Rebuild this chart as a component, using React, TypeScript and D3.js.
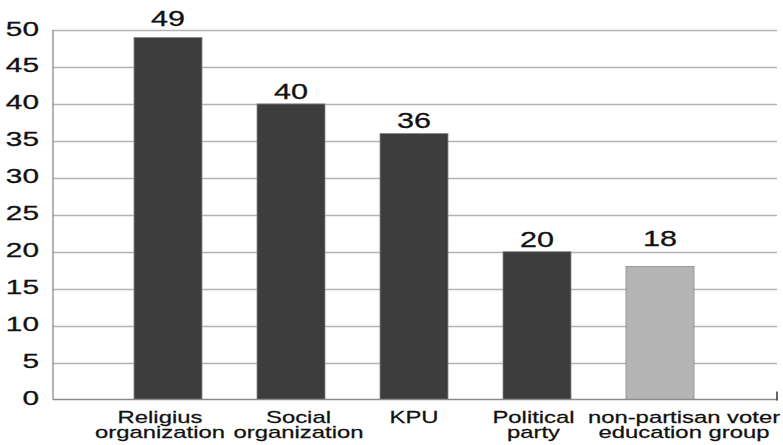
import React from "react";
import * as d3 from "d3";

const categories = ["Religius organization", "Social organization", "KPU", "Political party", "non-partisan voter education group"];
const labelLines = [["Religius", "organization"], ["Social", "organization"], ["KPU"], ["Political", "party"], ["non-partisan voter", "education group"]];
const values = [49, 40, 36, 20, 18];
const yTicks = [0, 5, 10, 15, 20, 25, 30, 35, 40, 45, 50];

// layout / style tweaks (not data)
const labelGap = [11, 5, 5, 5, 20];
const xLabelShift = [-8, 7.5, 0, -3.5, 24];
const barColors = ["#3d3d3d", "#3d3d3d", "#3d3d3d", "#3d3d3d", "#b4b4b4"];

const W = 783, H = 445;
const SX = 1.42;
const FONT = "'Liberation Sans', Arial, sans-serif";

export default function App() {
  const y = d3.scaleLinear().domain([0, 50]).range([399.5, 30]);
  const x = d3.scaleBand<string>().domain(categories).range([106.5, 721.5]).paddingInner(0.447).paddingOuter(0.2235);
  const axisLeft = 53, axisRight = 777;
  return (
    <svg width={W} height={H} style={{ position: "absolute", left: 0, top: 0, background: "#fff" }}>
      {yTicks.filter(t => t > 0).map(t => (
        <line key={"g" + t} x1={axisLeft} x2={axisRight} y1={Math.round(y(t)) + 0.5} y2={Math.round(y(t)) + 0.5} stroke="#b3b3b3" strokeWidth={1.3} />
      ))}
      {yTicks.map(t => (
        <text key={"t" + t} transform={`translate(39,${y(t) + 5.5}) scale(${SX},1)`} textAnchor="end" fontFamily={FONT} fontSize={21} fill="#111" stroke="#111" strokeWidth={0.3}>{t}</text>
      ))}
      {categories.map((c, i) => (
        <rect key={c} x={x(c)} y={y(values[i])} width={x.bandwidth()} height={y(0) - y(values[i])} fill={barColors[i]} stroke="#8a8a8a" strokeWidth={0.8} />
      ))}
      <line x1={axisLeft} x2={axisLeft} y1={y(50)} y2={y(0)} stroke="#8a8a8a" strokeWidth={1.3} />
      <line x1={axisLeft} x2={axisRight} y1={y(0)} y2={y(0)} stroke="#8a8a8a" strokeWidth={1.5} />
      <line x1={axisRight} x2={axisRight} y1={y(0) - 8} y2={y(0) + 1} stroke="#333" strokeWidth={1.5} />
      {categories.map((c, i) => (
        <text key={"v" + c} transform={`translate(${x(c)! + x.bandwidth() / 2},${y(values[i]) - labelGap[i]}) scale(${SX},1)`} textAnchor="middle" fontFamily={FONT} fontSize={21.5} fill="#111" stroke="#111" strokeWidth={0.3}>{values[i]}</text>
      ))}
      {categories.map((c, i) => labelLines[i].map((ln, j) => (
        <text key={"l" + c + j} transform={`translate(${x(c)! + x.bandwidth() / 2 + xLabelShift[i]},${423 + j * 15}) scale(${SX},1)`} textAnchor="middle" fontFamily={FONT} fontSize={16.8} fill="#111" stroke="#111" strokeWidth={0.25}>{ln}</text>
      )))}
    </svg>
  );
}
